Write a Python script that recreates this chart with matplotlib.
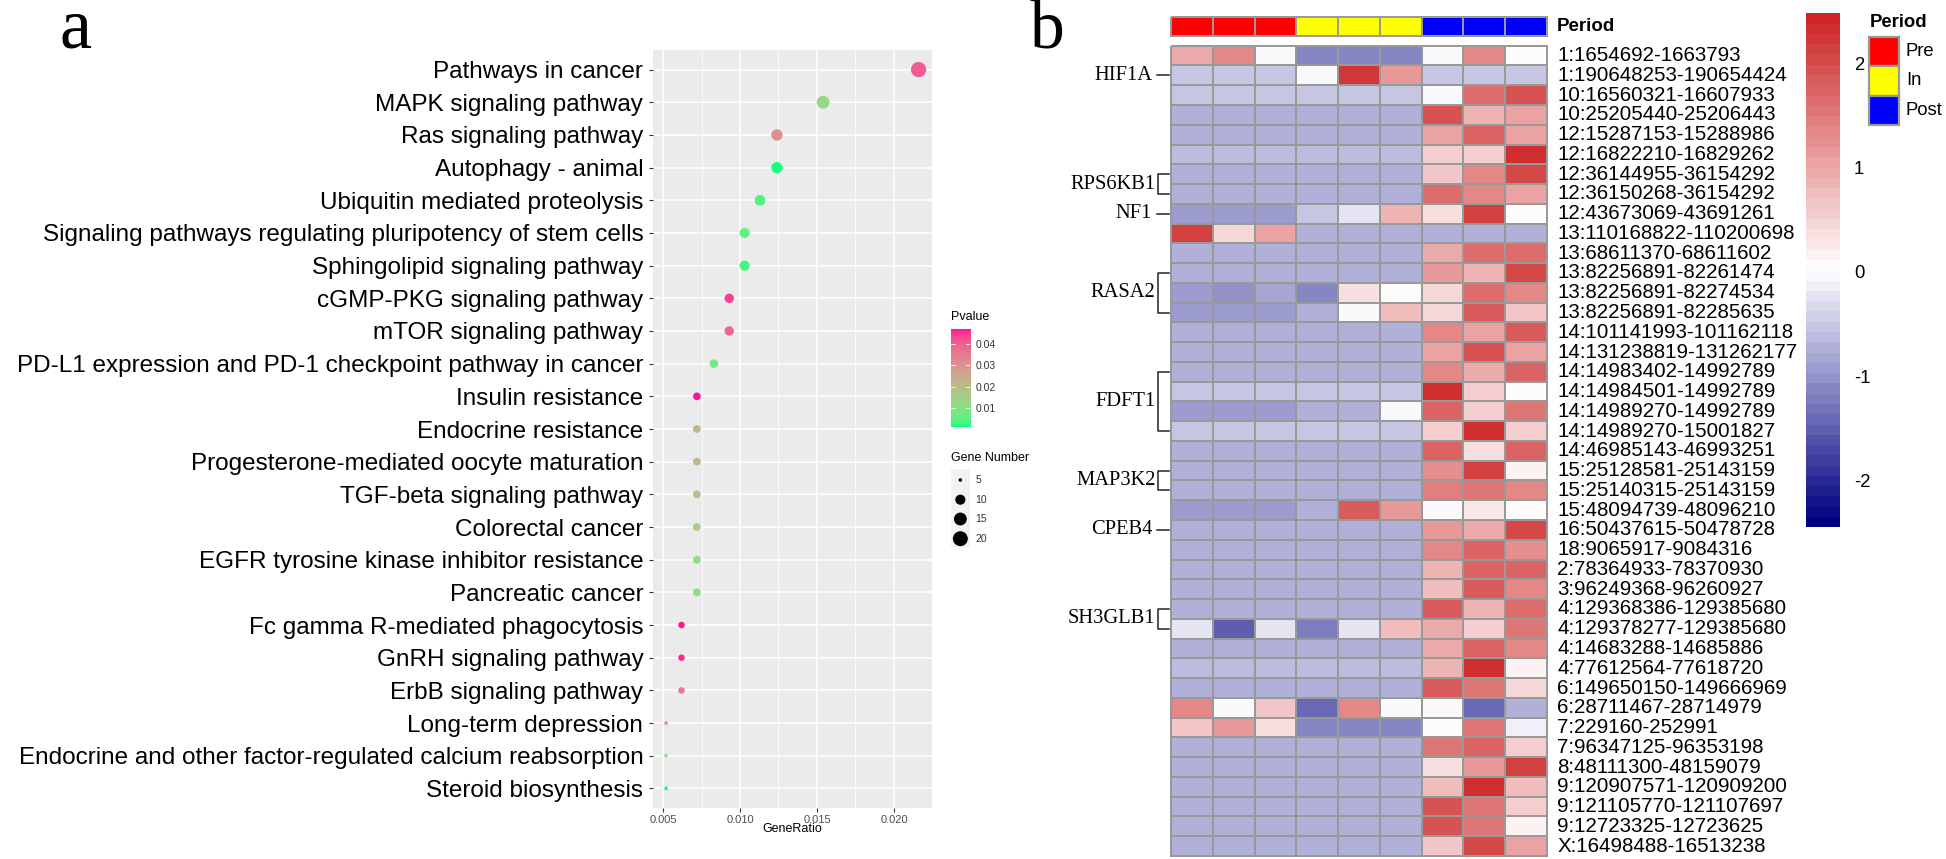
import numpy as np
import matplotlib
matplotlib.use("Agg")
import matplotlib.pyplot as plt
from matplotlib.colors import ListedColormap, LinearSegmentedColormap, BoundaryNorm, Normalize
from matplotlib.patches import Rectangle
from matplotlib.lines import Line2D

# ---------------- data: panel a ----------------
pathways = [
    "Pathways in cancer", "MAPK signaling pathway", "Ras signaling pathway",
    "Autophagy - animal", "Ubiquitin mediated proteolysis",
    "Signaling pathways regulating pluripotency of stem cells",
    "Sphingolipid signaling pathway", "cGMP-PKG signaling pathway",
    "mTOR signaling pathway", "PD-L1 expression and PD-1 checkpoint pathway in cancer",
    "Insulin resistance", "Endocrine resistance", "Progesterone-mediated oocyte maturation",
    "TGF-beta signaling pathway", "Colorectal cancer",
    "EGFR tyrosine kinase inhibitor resistance", "Pancreatic cancer",
    "Fc gamma R-mediated phagocytosis", "GnRH signaling pathway", "ErbB signaling pathway",
    "Long-term depression", "Endocrine and other factor-regulated calcium reabsorption",
    "Steroid biosynthesis",
]
gene_ratio = [0.0216, 0.0154, 0.0124, 0.0124, 0.0113, 0.0103, 0.0103, 0.0093, 0.0093,
              0.0083, 0.0072, 0.0072, 0.0072, 0.0072, 0.0072, 0.0072, 0.0072,
              0.0062, 0.0062, 0.0062, 0.0052, 0.0052, 0.0052]
gene_number = [21, 15, 12, 12, 11, 10, 10, 9, 9, 8, 7, 7, 7, 7, 7, 7, 7, 6, 6, 6, 5, 5, 5]
pvalue = [0.041, 0.013, 0.031, 0.0015, 0.004, 0.006, 0.003, 0.044, 0.039, 0.008,
          0.047, 0.022, 0.022, 0.019, 0.016, 0.011, 0.011, 0.047, 0.046, 0.036,
          0.033, 0.009, 0.001]
xticks_a = [0.005, 0.010, 0.015, 0.020]
pv_ticks = [0.01, 0.02, 0.03, 0.04]
size_legend = [5, 10, 15, 20]

# ---------------- data: panel b ----------------
row_labels = [
    "1:1654692-1663793", "1:190648253-190654424", "10:16560321-16607933",
    "10:25205440-25206443", "12:15287153-15288986", "12:16822210-16829262",
    "12:36144955-36154292", "12:36150268-36154292", "12:43673069-43691261",
    "13:110168822-110200698", "13:68611370-68611602", "13:82256891-82261474",
    "13:82256891-82274534", "13:82256891-82285635", "14:101141993-101162118",
    "14:131238819-131262177", "14:14983402-14992789", "14:14984501-14992789",
    "14:14989270-14992789", "14:14989270-15001827", "14:46985143-46993251",
    "15:25128581-25143159", "15:25140315-25143159", "15:48094739-48096210",
    "16:50437615-50478728", "18:9065917-9084316", "2:78364933-78370930",
    "3:96249368-96260927", "4:129368386-129385680", "4:129378277-129385680",
    "4:14683288-14685886", "4:77612564-77618720", "6:149650150-149666969",
    "6:28711467-28714979", "7:229160-252991", "7:96347125-96353198",
    "8:48111300-48159079", "9:120907571-120909200", "9:121105770-121107697",
    "9:12723325-12723625", "X:16498488-16513238",
]
heat_values = [
    [1.0, 1.3, 0.0, -1.15, -1.15, -1.15, 0.0, 1.3, 0.05],
    [-0.55, -0.55, -0.55, 0.0, 2.2, 1.1, -0.55, -0.55, -0.55],
    [-0.55, -0.55, -0.55, -0.55, -0.55, -0.55, 0.0, 1.6, 1.9],
    [-0.7, -0.7, -0.7, -0.7, -0.7, -0.7, 1.9, 0.85, 1.05],
    [-0.7, -0.7, -0.7, -0.7, -0.7, -0.7, 1.05, 1.7, 1.05],
    [-0.6, -0.6, -0.6, -0.6, -0.6, -0.6, 0.6, 0.6, 2.35],
    [-0.7, -0.7, -0.7, -0.7, -0.7, -0.7, 0.65, 1.3, 2.0],
    [-0.7, -0.7, -0.7, -0.7, -0.7, -0.7, 1.6, 1.3, 1.05],
    [-0.9, -0.9, -0.9, -0.55, -0.25, 0.85, 0.4, 2.1, 0.1],
    [2.1, 0.45, 1.05, -0.7, -0.7, -0.7, -0.7, -0.7, -0.7],
    [-0.7, -0.7, -0.7, -0.7, -0.7, -0.7, 1.0, 1.6, 1.6],
    [-0.7, -0.7, -0.7, -0.7, -0.7, -0.7, 1.1, 0.85, 2.0],
    [-0.9, -1.05, -0.85, -1.15, 0.4, 0.1, 0.45, 1.6, 1.3],
    [-0.95, -0.95, -0.95, -0.75, 0.0, 0.8, 0.45, 1.85, 0.65],
    [-0.7, -0.7, -0.7, -0.7, -0.7, -0.7, 1.3, 1.05, 1.85],
    [-0.7, -0.7, -0.7, -0.7, -0.7, -0.7, 1.05, 1.9, 1.05],
    [-0.7, -0.7, -0.7, -0.7, -0.7, -0.7, 1.3, 0.95, 1.7],
    [-0.55, -0.55, -0.55, -0.55, -0.55, -0.55, 2.35, 0.6, 0.1],
    [-0.9, -0.9, -0.9, -0.7, -0.7, 0.0, 1.7, 0.6, 1.5],
    [-0.55, -0.55, -0.55, -0.55, -0.55, -0.55, 0.6, 2.35, 0.6],
    [-0.7, -0.7, -0.7, -0.7, -0.7, -0.7, 1.7, 0.4, 1.7],
    [-0.7, -0.7, -0.7, -0.7, -0.7, -0.7, 1.25, 2.1, 0.2],
    [-0.7, -0.7, -0.7, -0.7, -0.7, -0.7, 1.4, 1.5, 1.3],
    [-0.95, -0.95, -0.95, -0.7, 1.85, 1.1, 0.0, 0.3, 0.1],
    [-0.7, -0.7, -0.7, -0.7, -0.7, -0.7, 1.1, 1.0, 2.0],
    [-0.7, -0.7, -0.7, -0.7, -0.7, -0.7, 1.3, 1.7, 1.25],
    [-0.7, -0.7, -0.7, -0.7, -0.7, -0.7, 0.85, 1.7, 1.7],
    [-0.7, -0.7, -0.7, -0.7, -0.7, -0.7, 0.8, 1.85, 1.3],
    [-0.7, -0.7, -0.7, -0.7, -0.7, -0.7, 1.85, 0.85, 1.6],
    [-0.25, -1.55, -0.25, -1.25, -0.25, 0.75, 1.0, 0.55, 1.5],
    [-0.7, -0.7, -0.7, -0.7, -0.7, -0.7, 1.0, 1.7, 1.3],
    [-0.6, -0.6, -0.6, -0.6, -0.6, -0.6, 0.85, 2.35, 0.2],
    [-0.7, -0.7, -0.7, -0.7, -0.7, -0.7, 1.85, 1.5, 0.45],
    [1.3, 0.0, 0.65, -1.4, 1.3, 0.0, 0.0, -1.4, -0.7],
    [0.65, 1.1, 0.35, -1.15, -1.15, -1.15, 0.1, 1.5, -0.1],
    [-0.7, -0.7, -0.7, -0.7, -0.7, -0.7, 1.5, 1.7, 0.6],
    [-0.7, -0.7, -0.7, -0.7, -0.7, -0.7, 0.35, 1.1, 2.1],
    [-0.7, -0.7, -0.7, -0.7, -0.7, -0.7, 0.8, 2.35, 0.8],
    [-0.7, -0.7, -0.7, -0.7, -0.7, -0.7, 1.9, 1.5, 0.6],
    [-0.7, -0.7, -0.7, -0.7, -0.7, -0.7, 1.9, 1.5, 0.2],
    [-0.7, -0.7, -0.7, -0.7, -0.7, -0.7, 0.65, 2.0, 1.05],
]
heat_range = [-2.45, 2.48]
heat_ticks = [-2, -1, 0, 1, 2]
period_of_column = ["Pre", "Pre", "Pre", "In", "In", "In", "Post", "Post", "Post"]
period_levels = ["Pre", "In", "Post"]
period_colors = ["#FF0000", "#FFFF00", "#0000FF"]
gene_names = ["HIF1A", "RPS6KB1", "NF1", "RASA2", "FDFT1", "MAP3K2", "CPEB4", "SH3GLB1"]
gene_first_row = [1, 6, 8, 11, 16, 21, 24, 28]
gene_last_row = [1, 7, 8, 13, 19, 22, 24, 29]

# ---------------- helpers ----------------
W, H, DPI = 1946, 859, 100
fig = plt.figure(figsize=(W / DPI, H / DPI), dpi=DPI)
SANS = ["Liberation Sans", "DejaVu Sans"]
SERIF = ["Liberation Serif", "DejaVu Serif"]
plt.rcParams["font.family"] = SANS


def px_axes(x0, y0, x1, y1):
    return fig.add_axes([x0 / W, 1 - y1 / H, (x1 - x0) / W, (y1 - y0) / H])


def fx(x):
    return x / W


def fy(y):
    return 1 - y / H


# Lab interpolation (as ggplot's gradient)
_M = np.array([[0.4124, 0.3576, 0.1805], [0.2126, 0.7152, 0.0722], [0.0193, 0.1192, 0.9505]])
_WP = np.array([0.95047, 1.0, 1.08883])


def to_lab(hexc):
    rgb = np.array(matplotlib.colors.to_rgb(hexc))
    lin = np.where(rgb <= 0.04045, rgb / 12.92, ((rgb + 0.055) / 1.055) ** 2.4)
    xyz = (_M @ lin) / _WP
    f = np.where(xyz > 0.008856, np.cbrt(xyz), 7.787 * xyz + 16 / 116)
    return np.array([116 * f[1] - 16, 500 * (f[0] - f[1]), 200 * (f[1] - f[2])])


def from_lab(lab):
    L, a, b = lab
    fyv = (L + 16) / 116
    f = np.array([fyv + a / 500, fyv, fyv - b / 200])
    xyz = np.where(f ** 3 > 0.008856, f ** 3, (f - 16 / 116) / 7.787) * _WP
    lin = np.clip(np.linalg.inv(_M) @ xyz, 0, 1)
    rgb = np.where(lin <= 0.0031308, 12.92 * lin, 1.055 * lin ** (1 / 2.4) - 0.055)
    return np.clip(rgb, 0, 1)


lo, hi = to_lab("#00FF7F"), to_lab("#FF1493")
pv_cmap = ListedColormap([from_lab(lo + t * (hi - lo)) for t in np.linspace(0, 1, 256)])
pv_norm = Normalize(min(pvalue), max(pvalue))

# ---------------- panel a ----------------
ax = px_axes(653, 50, 932, 808)
ax.set_facecolor("#EBEBEB")
n = len(pathways)
ypos = np.arange(n)
ax.set_xlim(0.00435, 0.02247)
ax.set_ylim(n - 1 + 0.6, -0.6)
ax.set_xticks(xticks_a)
ax.set_xticks([0.0075, 0.0125, 0.0175], minor=True)
ax.set_xticklabels([f"{t:.3f}" for t in xticks_a], fontsize=8, color="#4D4D4D")
ax.set_yticks(ypos)
ax.set_yticklabels(pathways, fontsize=17.5, color="black")
ax.grid(True, which="major", color="white", lw=1.1)
ax.grid(True, which="minor", axis="x", color="white", lw=0.55)
ax.set_axisbelow(True)
for s in ax.spines.values():
    s.set_visible(False)
ax.tick_params(axis="y", which="major", length=3, width=0.8, color="#333333", pad=4)
ax.tick_params(axis="x", which="major", length=3, width=0.8, color="#333333", pad=2)
ax.tick_params(axis="x", which="minor", length=0)


def size_px(c):
    cmin, cmax = min(gene_number), max(gene_number)
    return 2.35 * (1 + 5 * np.sqrt((np.asarray(c, float) - cmin) / (cmax - cmin))) + 1.2


s_pts = (size_px(gene_number) * 72 / DPI) ** 2
ax.scatter(gene_ratio, ypos, s=s_pts, c=pvalue, cmap=pv_cmap, norm=pv_norm,
           edgecolors="none", zorder=3)
fig.text(fx(792), fy(829), "GeneRatio", fontsize=9, ha="center", va="center")

# Pvalue colorbar
cax = px_axes(950.7, 329, 970, 427)
grad = np.linspace(pv_norm.vmin, pv_norm.vmax, 256).reshape(-1, 1)
cax.imshow(grad, aspect="auto", cmap=pv_cmap, norm=pv_norm, origin="lower",
           extent=[0, 1, pv_norm.vmin, pv_norm.vmax])
cax.set_xlim(0, 1)
cax.set_ylim(pv_norm.vmin, pv_norm.vmax)
cax.set_xticks([])
cax.yaxis.tick_right()
cax.set_yticks(pv_ticks)
cax.set_yticklabels([f"{t:.2f}" for t in pv_ticks], fontsize=7.5, color="#333333")
cax.tick_params(axis="y", length=0, pad=4)
for t in pv_ticks:
    cax.plot([0, 0.2], [t, t], color="white", lw=0.6)
    cax.plot([0.8, 1], [t, t], color="white", lw=0.6)
for s in cax.spines.values():
    s.set_visible(False)
fig.text(fx(950.7), fy(316.7), "Pvalue", fontsize=9, ha="left", va="center")

# Gene Number legend
fig.text(fx(950.7), fy(458.3), "Gene Number", fontsize=9, ha="left", va="center")
lax = px_axes(950.7, 469, 970, 548)
lax.set_facecolor("#F2F2F2")
lax.set_xlim(0, 1)
lax.set_ylim(548, 469)
key_y = [480, 499.7, 519, 538.7]
lax.scatter([0.5] * len(size_legend), key_y, s=(size_px(size_legend) * 72 / DPI) ** 2,
            color="black", edgecolors="none")
lax.set_xticks([])
lax.set_yticks([])
for s in lax.spines.values():
    s.set_visible(False)
for v, yk in zip(size_legend, key_y):
    fig.text(fx(975.7), fy(yk), str(v), fontsize=7.5, color="#333333", ha="left", va="center")

fig.text(fx(60), fy(48), "a", fontsize=52, family=SERIF, ha="left", va="baseline")

# ---------------- panel b ----------------
heat_colors = LinearSegmentedColormap.from_list("nwf", ["#000080", "#FFFFFF", "#CD2626"])
heat_cmap = ListedColormap(heat_colors(np.linspace(0, 1, 50)))
heat_norm = BoundaryNorm(np.linspace(heat_range[0], heat_range[1], 51), 50)

data = np.array(heat_values)
nr, nc = data.shape
hax = px_axes(1171, 45.7, 1547, 856)
mesh = hax.pcolormesh(np.arange(nc + 1), np.arange(nr + 1), data, cmap=heat_cmap,
                      norm=heat_norm, edgecolors="#999999", linewidth=1.3)
mesh.set_clip_on(False)
hax.set_xlim(0, nc)
hax.set_ylim(nr, 0)
hax.axis("off")

for i, lab in enumerate(row_labels):
    hax.text(9.25, i + 0.5, lab, fontsize=14.8, ha="left", va="center", clip_on=False)

# gene annotations with brackets
xv, xe, xt = -0.31, -0.05, -0.45
for name, r0, r1 in zip(gene_names, gene_first_row, gene_last_row):
    yc = (r0 + r1 + 1) / 2
    if r0 == r1:
        hax.add_line(Line2D([xv - 0.02, xe], [yc, yc], color="#222222", lw=1.1, clip_on=False))
        hax.text(xt, yc, name, fontsize=14.8, family=SERIF, ha="right", va="center", clip_on=False)
    else:
        ya, yb = r0 + 0.5, r1 + 0.5
        hax.add_line(Line2D([xe, xv, xv, xe], [ya, ya, yb, yb], color="#222222", lw=1.1,
                            clip_on=False))
        hax.text(xt + 0.08, yc, name, fontsize=14.8, family=SERIF, ha="right", va="center",
                 clip_on=False)

# annotation bar
aax = px_axes(1171, 16.7, 1547, 35.7)
codes = np.array([[period_levels.index(p) for p in period_of_column]])
amesh = aax.pcolormesh(np.arange(nc + 1), [0, 1], codes, cmap=ListedColormap(period_colors),
                       vmin=-0.5, vmax=2.5, edgecolors="#999999", linewidth=1.3)
amesh.set_clip_on(False)
aax.set_xlim(0, nc)
aax.set_ylim(1, 0)
aax.axis("off")
fig.text(fx(1557), fy(26.5), "Period", fontsize=13.5, fontweight="bold", ha="left", va="center")

# heat colorbar
bax = px_axes(1806, 13.3, 1840, 527.3)
bnds = np.linspace(heat_range[0], heat_range[1], 51)
for k in range(50):
    bax.add_patch(Rectangle((0, bnds[k]), 1, bnds[k + 1] - bnds[k],
                            facecolor=heat_cmap(k), edgecolor="none"))
bax.set_xlim(0, 1)
bax.set_ylim(heat_range[0], heat_range[1])
bax.set_xticks([])
bax.yaxis.tick_right()
bax.set_yticks(heat_ticks)
bax.set_yticklabels([str(t) for t in heat_ticks], fontsize=13.3)
bax.tick_params(axis="y", length=0, pad=10)
for s in bax.spines.values():
    s.set_visible(False)

# Period legend
fig.text(fx(1870), fy(22.7), "Period", fontsize=13.3, fontweight="bold", ha="left", va="center")
gax = px_axes(1869, 36.7, 1899, 125)
gax.set_xlim(0, 1)
gax.set_ylim(3, 0)
for k, (lev, col) in enumerate(zip(period_levels, period_colors)):
    gax.add_patch(Rectangle((0, k), 1, 1, facecolor=col, edgecolor="#999999", lw=1.6,
                            clip_on=False))
    gax.text(1.23, k + 0.5, lev, fontsize=13.3, ha="left", va="center", clip_on=False)
gax.axis("off")

fig.text(fx(1030), fy(47), "b", fontsize=50, family=SERIF, ha="left", va="baseline")

fig.savefig("out.png", dpi=DPI)
